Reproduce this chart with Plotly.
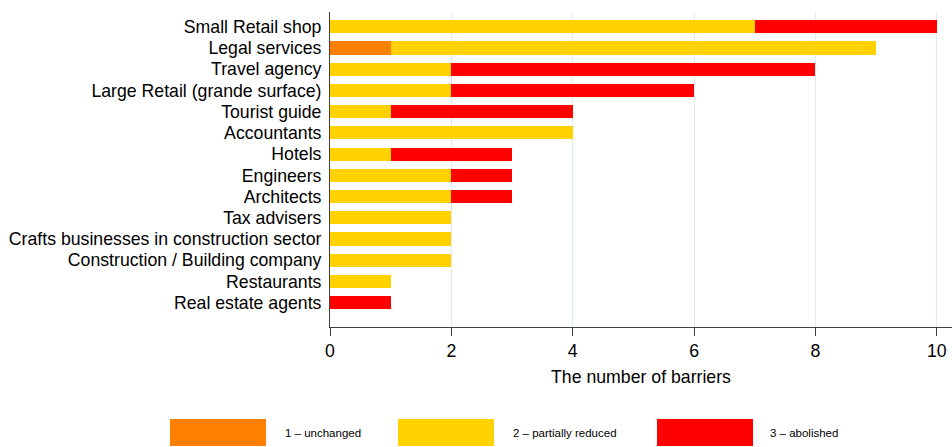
import plotly.graph_objects as go

# categories, bottom to top
categories = [
    "Real estate agents",
    "Restaurants",
    "Construction / Building company",
    "Crafts businesses in construction sector",
    "Tax advisers",
    "Architects",
    "Engineers",
    "Hotels",
    "Accountants",
    "Tourist guide",
    "Large Retail (grande surface)",
    "Travel agency",
    "Legal services",
    "Small Retail shop",
]
unchanged = [0, 0, 0, 0, 0, 0, 0, 0, 0, 0, 0, 0, 1, 0]
partially_reduced = [0, 1, 2, 2, 2, 2, 2, 1, 4, 1, 2, 2, 8, 7]
abolished = [1, 0, 0, 0, 0, 1, 1, 2, 0, 3, 4, 6, 0, 3]

series_names = ["1 \u2013 unchanged", "2 \u2013 partially reduced", "3 \u2013 abolished"]
COLORS = ["#FF8000", "#FFD200", "#FF0000"]
x_ticks = [0, 2, 4, 6, 8, 10]

W, H = 952, 447
M = dict(l=330, r=0, t=12, b=120)
PW = W - M["l"] - M["r"]
PH = H - M["t"] - M["b"]


def px_x(x):
    return (x - M["l"]) / PW


def px_y(y):
    return (H - M["b"] - y) / PH


fig = go.Figure()
for name, vals, col in zip(series_names, [unchanged, partially_reduced, abolished], COLORS):
    fig.add_trace(go.Bar(
        y=categories,
        x=vals,
        name=name,
        orientation="h",
        marker=dict(color=col, line=dict(width=0)),
        width=0.62,
    ))

# legend drawn manually (wide swatches)
legend_items = [(170, 266, 283), (398, 494, 511), (657, 753, 768)]
shapes = []
annotations = []
for (x0, x1, tx), name, col in zip(legend_items, series_names, COLORS):
    shapes.append(dict(type="rect", xref="paper", yref="paper",
                       x0=px_x(x0), x1=px_x(x1), y0=px_y(446), y1=px_y(419),
                       fillcolor=col, line=dict(width=0)))
    annotations.append(dict(xref="paper", yref="paper", x=px_x(tx), y=px_y(433),
                            text=name, showarrow=False, xanchor="left", yanchor="middle",
                            font=dict(size=11.5, color="#000000")))

fig.update_layout(
    width=W, height=H,
    margin=M,
    barmode="stack",
    showlegend=False,
    paper_bgcolor="white",
    plot_bgcolor="white",
    font=dict(family="Liberation Sans, Arial, sans-serif", color="#000000"),
    shapes=shapes,
    annotations=annotations,
    xaxis=dict(
        range=[0, 10.25],
        tickmode="array",
        tickvals=x_ticks,
        showgrid=True,
        gridcolor="#dfe9ee",
        gridwidth=1,
        zeroline=False,
        showline=True,
        linecolor="#404040",
        linewidth=1,
        ticks="outside",
        ticklen=8,
        tickcolor="#404040",
        tickfont=dict(size=17.7),
        title=dict(text="The number of barriers", font=dict(size=17.7), standoff=10),
        fixedrange=True,
    ),
    yaxis=dict(
        type="category",
        categoryorder="array",
        categoryarray=categories,
        range=[-1.15, 13.7],
        showgrid=False,
        zeroline=False,
        showline=True,
        linecolor="#404040",
        linewidth=1,
        ticks="",
        ticklabelstandoff=4,
        tickfont=dict(size=17.7),
        fixedrange=True,
    ),
)

fig.write_html("out.html", config=dict(displayModeBar=False),
               post_script="document.body.style.margin='0';")
